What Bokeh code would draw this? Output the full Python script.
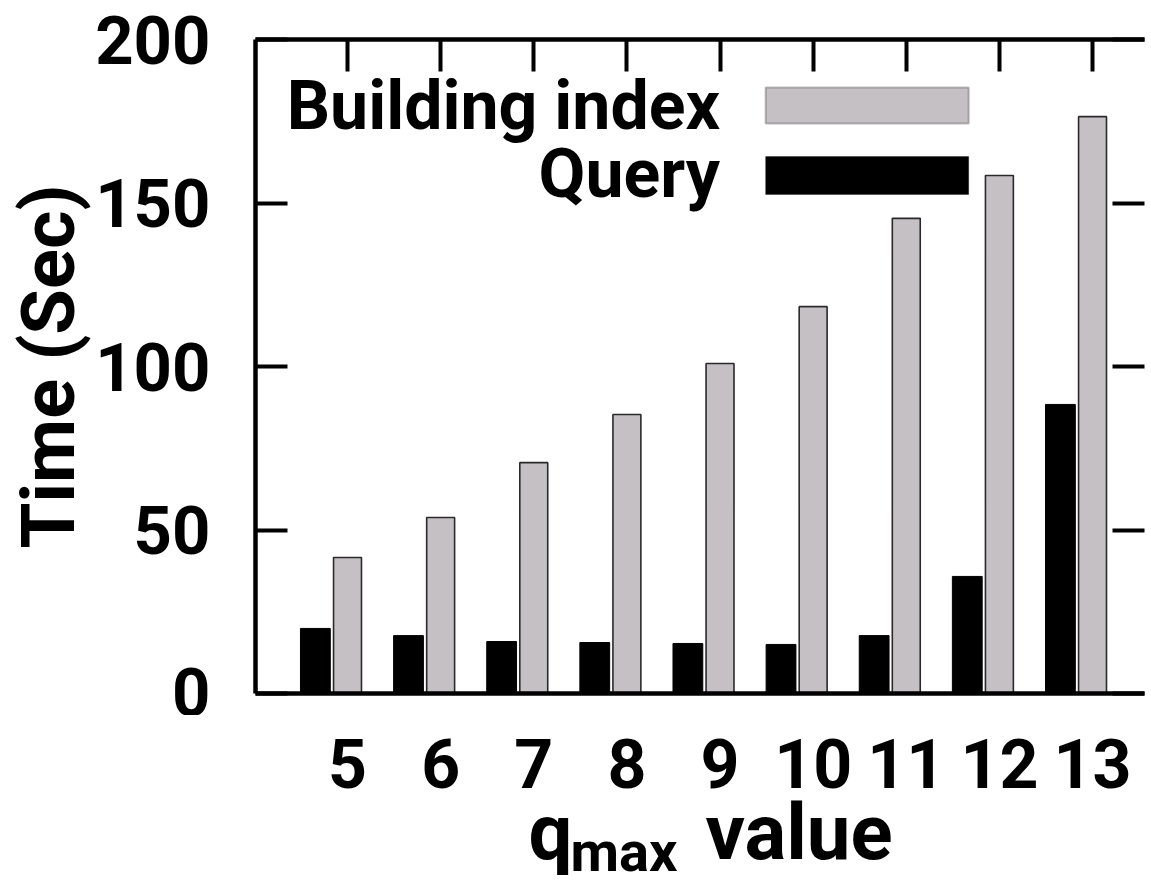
from bokeh.plotting import figure
from bokeh.models import LinearAxis, FixedTicker, Range1d, Label, BoxAnnotation, ColumnDataSource
from bokeh.transform import dodge
from bokeh.layouts import column
from bokeh.embed import file_html
from bokeh.resources import INLINE

# ---- data ----
q_values = [5, 6, 7, 8, 9, 10, 11, 12, 13]
q_labels = ["5", "6", "7", "8", "9", "10", "11", "12", "13"]
building_index = [41.6, 53.8, 70.6, 85.3, 100.9, 118.3, 145.3, 158.4, 176.4]
query_time = [19.9, 17.7, 15.9, 15.6, 15.3, 15.0, 17.7, 35.8, 88.4]
y_ticks = [0, 50, 100, 150, 200]
series_names = ["Building index", "Query"]

FONT = "Roboto"
GRAY = "#c4c0c4"

src = ColumnDataSource(dict(q=q_values, build=building_index, query=query_time))

p = figure(width=1151, frame_height=654, output_backend="svg", toolbar_location=None,
           x_range=Range1d(4.012, 13.558), y_range=Range1d(0, 200),
           min_border_left=255, min_border_right=0, min_border_top=39, min_border_bottom=22)
p.outline_line_color = None
p.xgrid.visible = False
p.ygrid.visible = False

p.vbar(x=dodge("q", -0.345, range=p.x_range), top="query", bottom=0, width=0.32, source=src,
       fill_color="black", line_color="black", line_width=1)
p.vbar(x="q", top="build", bottom=0, width=0.30, source=src,
       fill_color=GRAY, line_color="#2a2a2a", line_width=1.6)

def style_axis(ax, ticks, labels=True):
    ax.ticker = FixedTicker(ticks=ticks)
    ax.axis_line_width = 4.5
    ax.axis_line_color = "black"
    ax.major_tick_in = 32
    ax.major_tick_out = 0
    ax.major_tick_line_width = 4
    ax.major_tick_line_color = "black"
    ax.minor_tick_line_color = None
    ax.major_label_text_font = FONT
    ax.major_label_text_font_style = "bold"
    ax.major_label_text_color = "black"
    if not labels:
        ax.major_label_overrides = {t: "" for t in ticks}
        ax.major_label_standoff = 0

# bottom axis (its labels are drawn in the strip below)
xa = p.xaxis[0]
style_axis(xa, q_values, labels=False)
xa.major_tick_line_color = None

# left axis
ya = p.yaxis[0]
style_axis(ya, y_ticks)
ya.major_label_text_font_size = "67px"
ya.major_label_standoff = 45
ya.axis_label = "Time (Sec)"
ya.axis_label_text_font = FONT
ya.axis_label_text_font_style = "bold"
ya.axis_label_text_font_size = "74px"
ya.axis_label_text_color = "black"
ya.axis_label_standoff = 0

# top axis (ticks only)
ta = LinearAxis()
style_axis(ta, q_values, labels=False)
p.add_layout(ta, "above")

# right axis (ticks only; its border lies beyond the picture)
ra = LinearAxis()
style_axis(ra, y_ticks, labels=False)
ra.axis_line_color = None
p.add_layout(ra, "right")

# legend (labels left of swatches)
p.add_layout(BoxAnnotation(left=9.49, right=11.67, bottom=174.3, top=185.3,
                           fill_color=GRAY, fill_alpha=1, line_color="#2a2a2a", line_width=2, level="overlay"))
p.add_layout(BoxAnnotation(left=9.49, right=11.67, bottom=152.6, top=164.2,
                           fill_color="black", fill_alpha=1, line_color="black", line_width=1, level="overlay"))
for name, ym in zip(series_names, [179.8, 159.0]):
    p.add_layout(Label(x=9.0, y=ym, text=name, text_align="right", text_baseline="middle",
                       text_font=FONT, text_font_style="bold", text_font_size="68px", text_color="black"))

# ---- strip below: x tick labels and x axis title ----
p2 = figure(width=1151, frame_height=162, output_backend="svg", toolbar_location=None,
            x_range=p.x_range, y_range=Range1d(0, 162), x_axis_type=None, y_axis_type=None,
            min_border_left=255, min_border_right=7, min_border_top=0, min_border_bottom=0)
p2.outline_line_color = None
lab_src = ColumnDataSource(dict(q=q_values, t=q_labels))
p2.text(x="q", y=114, text="t", source=lab_src, text_align="center", text_baseline="middle",
        text_font={"value": FONT}, text_font_style="bold", text_font_size="68px", text_color="black")
p2.text(x=[6.944, 8.844], y=[45, 45], text=["q", "value"], text_align="left", text_baseline="middle",
        text_font={"value": FONT}, text_font_style="bold", text_font_size="78px", text_color="black")
p2.text(x=[7.395], y=[26], text=["max"], text_align="left", text_baseline="middle",
        text_font={"value": FONT}, text_font_style="bold", text_font_size="56px", text_color="black")

layout = column(p, p2, spacing=0)
open("out.html", "w").write(file_html(layout, INLINE))
